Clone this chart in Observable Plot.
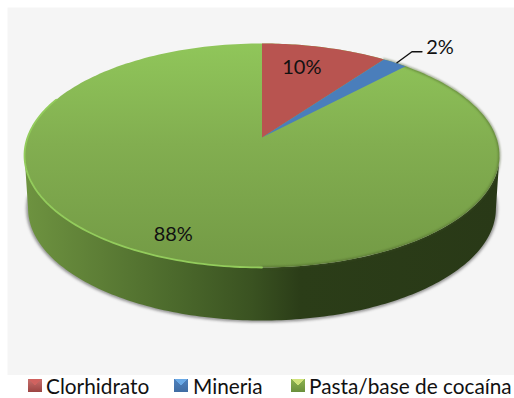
<!DOCTYPE html>
<html>
<head>
<meta charset="utf-8">
<script src="https://cdn.jsdelivr.net/npm/d3@7"></script>
<script src="https://cdn.jsdelivr.net/npm/@observablehq/plot@0.6"></script>
<style>
html,body{margin:0;padding:0;background:#fff;overflow:hidden;}
#chart svg{display:block;}
#legend{position:relative;height:23px;font-family:Lato,"Open Sans",sans-serif;font-size:20.8px;color:#111;line-height:21px;}
#legend div{position:absolute;top:0;white-space:nowrap;}
#legend i{position:absolute;top:4px;width:14px;height:13px;display:block;}
</style>
</head>
<body>
<div id="chart"></div>
<div id="legend"></div>
<script>
const categories = ["Clorhidrato", "Mineria", "Pasta/base de cocaína"];
const shares = [10, 2, 88];
const labels = ["10%", "2%", "88%"];
const colors = ["#b85450", "#4a7ebb", "#8cc25a"];
const swatches = [["#d0625f", "#c9706d", "#9c4442"], ["#6aa9e6", "#4f81bd", "#3f6ca3"], ["#cfe27a", "#8db350", "#6a8f3b"]];
const legendX = [28, 174, 291];
const legendTextX = [46, 193, 309];

// perspective of the tilted disc
const tilt = 0.1607, depth = 0.486, shrink = 0.985;
const k = 234.4, s = 109.1, cx = 261.5, cy = 137, W = 514, H = 375, left = 7, top_ = 7;

function project(theta, r = 1, drop = 0, scale = 1) {
  const u = r * Math.sin(theta), v = r * Math.cos(theta), d = 1 + tilt * v;
  return {x: scale * u / d, y: v / d - drop};
}
const arcs = d3.pie().sort(null).value(d => d)(shares);
const slices = arcs.flatMap((a, i) => {
  const n = Math.max(8, Math.ceil((a.endAngle - a.startAngle) * 60));
  const pts = d3.range(n + 1).map(j => project(a.startAngle + (a.endAngle - a.startAngle) * j / n));
  return [project(0, 0), ...pts, project(0, 0)].map(p => ({...p, id: categories[i], fill: i}));
});
const range = (a, b, n) => d3.range(n + 1).map(j => a + (b - a) * j / n);
const rimStart = Math.PI / 2 + Math.asin(tilt), rimEnd = 3 * Math.PI / 2 - Math.asin(tilt);
const rim = range(rimStart, rimEnd, 160);
const side = [...rim.map(t => project(t)), ...rim.slice().reverse().map(t => project(t, 1, depth, shrink))];
const bottom = range(rimStart - 0.1, rimEnd + 0.1, 160).map(t => project(t, 1, depth, shrink));
const disc = range(0, 2 * Math.PI, 240).map(t => project(t));
const lowerRim = range(Math.PI * 1.0, 1.62 * Math.PI, 100).map(t => project(t));
const rightRim = range(0.2 * Math.PI, Math.PI * 1.0, 120).map(t => project(t));

const mid = a => (a.startAngle + a.endAngle) / 2;
const anchor2 = project(mid(arcs[1]));
const leader = [
  {x: anchor2.x + 2 / k, y: anchor2.y},
  {x: anchor2.x + 17 / k, y: anchor2.y + 11 / s},
  {x: anchor2.x + 27 / k, y: anchor2.y + 11 / s}
];
const nudge = (p, dx, dy) => ({x: p.x + dx / k, y: p.y - dy / s});
const texts = [
  {...nudge(project(mid(arcs[0]), 0.752), -9, 0), t: labels[0]},
  {...nudge(anchor2, 45, -15), t: labels[1]},
  {...nudge(project(mid(arcs[2]), 0.83), -7, 1), t: labels[2]}
];

const defs = () => {
  const d = d3.create("svg:defs");
  const grad = (id, x2, y2, stops) => {
    const g = d.append("linearGradient").attr("id", id)
      .attr("x1", 0).attr("y1", 0).attr("x2", x2).attr("y2", y2);
    stops.forEach(([o, c]) => g.append("stop").attr("offset", o).attr("stop-color", c));
  };
  grad("sideG", 1, 0, [[0, "#6e9340"], [0.16, "#5d7e36"], [0.31, "#4c6a2c"], [0.48, "#3a5221"], [0.58, "#2b3d18"], [1, "#293917"]]);
  grad("topG", 0, 1, [[0, "#90c65a"], [0.45, "#82ae50"], [1, "#739a45"]]);
  return d.node();
};

const base = {x: "x", y: "y"};
const plot = Plot.plot({
  width: W, height: H,
  marginLeft: left, marginRight: 0, marginTop: top_, marginBottom: 0,
  style: {background: "transparent", fontFamily: "Lato, 'Open Sans', sans-serif"},
  x: {domain: [(left - cx) / k, (W - cx) / k], range: [left, W], axis: null},
  y: {domain: [(cy - top_) / s, (cy - H) / s], range: [top_, H], axis: null},
  marks: [
    defs,
    Plot.frame({fill: "#f5f5f5", stroke: "none"}),
    Plot.line(bottom, {...base, stroke: "#555", strokeWidth: 3, curve: "linear", imageFilter: "blur(1.6px)", strokeOpacity: 0.75}),
    Plot.line(side, {...base, fill: "url(#sideG)", stroke: "none", curve: "linear"}),
    Plot.line(disc, {...base, fill: "url(#topG)", stroke: "none", curve: "linear"}),
    Plot.line(rightRim, {...base, stroke: "#3f5422", strokeWidth: 2, strokeOpacity: 0.55, imageFilter: "blur(1px)", curve: "linear"}),
    Plot.line(lowerRim, {...base, stroke: "#93cc5c", strokeWidth: 1.8, imageFilter: "blur(0.5px)", curve: "linear"}),
    Plot.line(slices.filter(d => d.fill !== 2), {...base, z: "id", fill: d => colors[d.fill], stroke: "none", curve: "linear"}),
    Plot.line(leader, {...base, stroke: "#111", strokeWidth: 1.4, curve: "linear"}),
    Plot.text(texts, {...base, text: "t", fontSize: 20, fill: "#111"})
  ]
});
document.getElementById("chart").append(plot);

const legend = d3.select("#legend");
categories.forEach((c, i) => {
  const [light, midC, dark] = swatches[i];
  legend.append("i").style("left", legendX[i] + "px")
    .style("background", `conic-gradient(from -45deg at 50% 50%, ${light} 0 90deg, transparent 90deg), linear-gradient(${midC}, ${dark})`);
  legend.append("div").style("left", legendTextX[i] + "px").text(c);
});
</script>
</body>
</html>
